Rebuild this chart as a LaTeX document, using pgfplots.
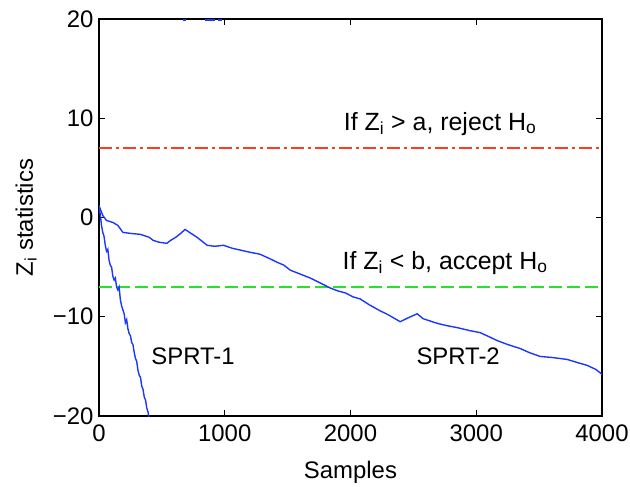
\documentclass[border=0pt]{standalone}
\usepackage{pgfplots}
\pgfplotsset{compat=1.18}
\usepackage{fontspec}
\setmainfont{Liberation Sans}
\setsansfont{Liberation Sans}
\definecolor{sblue}{RGB}{25,55,255}
\definecolor{sred}{RGB}{255,60,30}
\definecolor{sgreen}{RGB}{40,225,40}
\begin{document}
\begin{tikzpicture}
\useasboundingbox (-99bp,-71bp) rectangle (531bp,416bp);
\begin{axis}[
  at={(0,0)}, anchor=south west,
  scale only axis,
  width=503bp, height=397bp,
  xmin=0, xmax=4000, ymin=-20, ymax=20,
  xtick={0,1000,2000,3000,4000},
  ytick={-20,-10,0,10,20},
  yticklabels={−20,−10,0,10,20},
  tick align=inside,
  major tick length=6bp,
  axis line style={line width=1.5pt},
  every tick/.style={line width=1.5pt, black},
  /pgf/number format/assume math mode=true,
  /pgf/number format/1000 sep={},
  ticklabel style={font=\fontsize{24}{28}\selectfont},
  xticklabel style={yshift=-5bp},
  yticklabel style={xshift=-2bp},
  label style={font=\fontsize{24}{28}\selectfont},
  xlabel={Samples},
  ylabel={Z$_{\mathrm{i}}$ statistics},
  xlabel style={at={(axis description cs:0.5,0)}, anchor=base, yshift=-62bp},
  ylabel style={at={(axis description cs:0,0.5)}, anchor=center, yshift=73bp},
  clip=true,
]
\addplot[color=sred, line width=1.4pt, dash pattern=on 13bp off 4bp on 3bp off 4bp] coordinates {(0,7) (4000,7)};
\addplot[color=sgreen, line width=1.4pt, dash pattern=on 13bp off 5bp] coordinates {(0,-7) (4000,-7)};
% SPRT-1
\addplot[color=sblue, line width=1.4pt] coordinates {
(0,1.2) (10,0.3) (20,-0.8) (30,-1.5) (40,-1.9) (50,-2.8) (60,-3.4) (70,-3.2) (80,-4.3) (90,-4.8)
(100,-5.0) (110,-5.9) (120,-6.3) (130,-6.1) (140,-7.0) (150,-7.3) (160,-7.0) (170,-8.3) (180,-8.9)
(190,-9.3) (200,-9.7) (210,-10.6) (220,-10.3) (230,-11.2) (240,-11.7) (250,-11.9) (260,-12.6)
(270,-12.8) (280,-13.6) (290,-14.2) (300,-14.5) (310,-15.4) (320,-15.9) (330,-16.1) (340,-17.0)
(350,-17.3) (360,-18.1) (370,-18.4) (380,-19.2) (390,-19.6) (400,-20.5)};
% SPRT-2
\addplot[color=sblue, line width=1.4pt] coordinates {
(0,1.2) (30,0.2) (60,-0.3) (111,-0.5) (150,-0.8) (190,-1.5) (250,-1.6) (330,-1.7) (400,-2.0)
(430,-2.3) (480,-2.5) (540,-2.6) (570,-2.3) (610,-2.0) (650,-1.6) (684,-1.2) (720,-1.5) (780,-2.0)
(860,-2.8) (920,-2.9) (990,-2.8) (1060,-3.1) (1130,-3.3) (1200,-3.5) (1280,-3.7) (1350,-4.1)
(1415,-4.5) (1470,-4.8) (1520,-5.3) (1600,-5.7) (1680,-6.1) (1760,-6.6) (1838,-7.1) (1900,-7.4)
(1960,-7.6) (2020,-8.0) (2076,-8.2) (2150,-8.8) (2235,-9.4) (2300,-9.8) (2395,-10.5) (2460,-10.1)
(2530,-9.7) (2578,-10.2) (2650,-10.5) (2700,-10.7) (2768,-10.9) (2850,-11.1) (2950,-11.4)
(3031,-11.6) (3100,-12.0) (3166,-12.4) (3250,-12.8) (3349,-13.2) (3420,-13.6) (3508,-14.0)
(3600,-14.1) (3723,-14.3) (3800,-14.6) (3882,-14.9) (3950,-15.3) (4000,-15.8)};
% line touching the top border
\addplot[color=sblue, line width=1.4pt] coordinates {(668,19.9) (690,19.9)};
\addplot[color=sblue, line width=1.4pt] coordinates {(840,19.9) (920,19.9)};
\addplot[color=sblue, line width=1.4pt] coordinates {(945,19.9) (975,19.9)};
\node[font=\fontsize{25}{28}\selectfont, anchor=base] at (axis cs:2713,8.8) {If Z$_{\mathrm{i}}$ \char"003E\ a, reject H$_{\mathrm{o}}$};
\node[font=\fontsize{25}{28}\selectfont, anchor=base] at (axis cs:2752,-5.2) {If Z$_{\mathrm{i}}$ \char"003C\ b, accept H$_{\mathrm{o}}$};
\node[font=\fontsize{24}{28}\selectfont] at (axis cs:748,-14) {SPRT-1};
\node[font=\fontsize{24}{28}\selectfont] at (axis cs:2856,-14) {SPRT-2};
\end{axis}
\end{tikzpicture}
\end{document}
